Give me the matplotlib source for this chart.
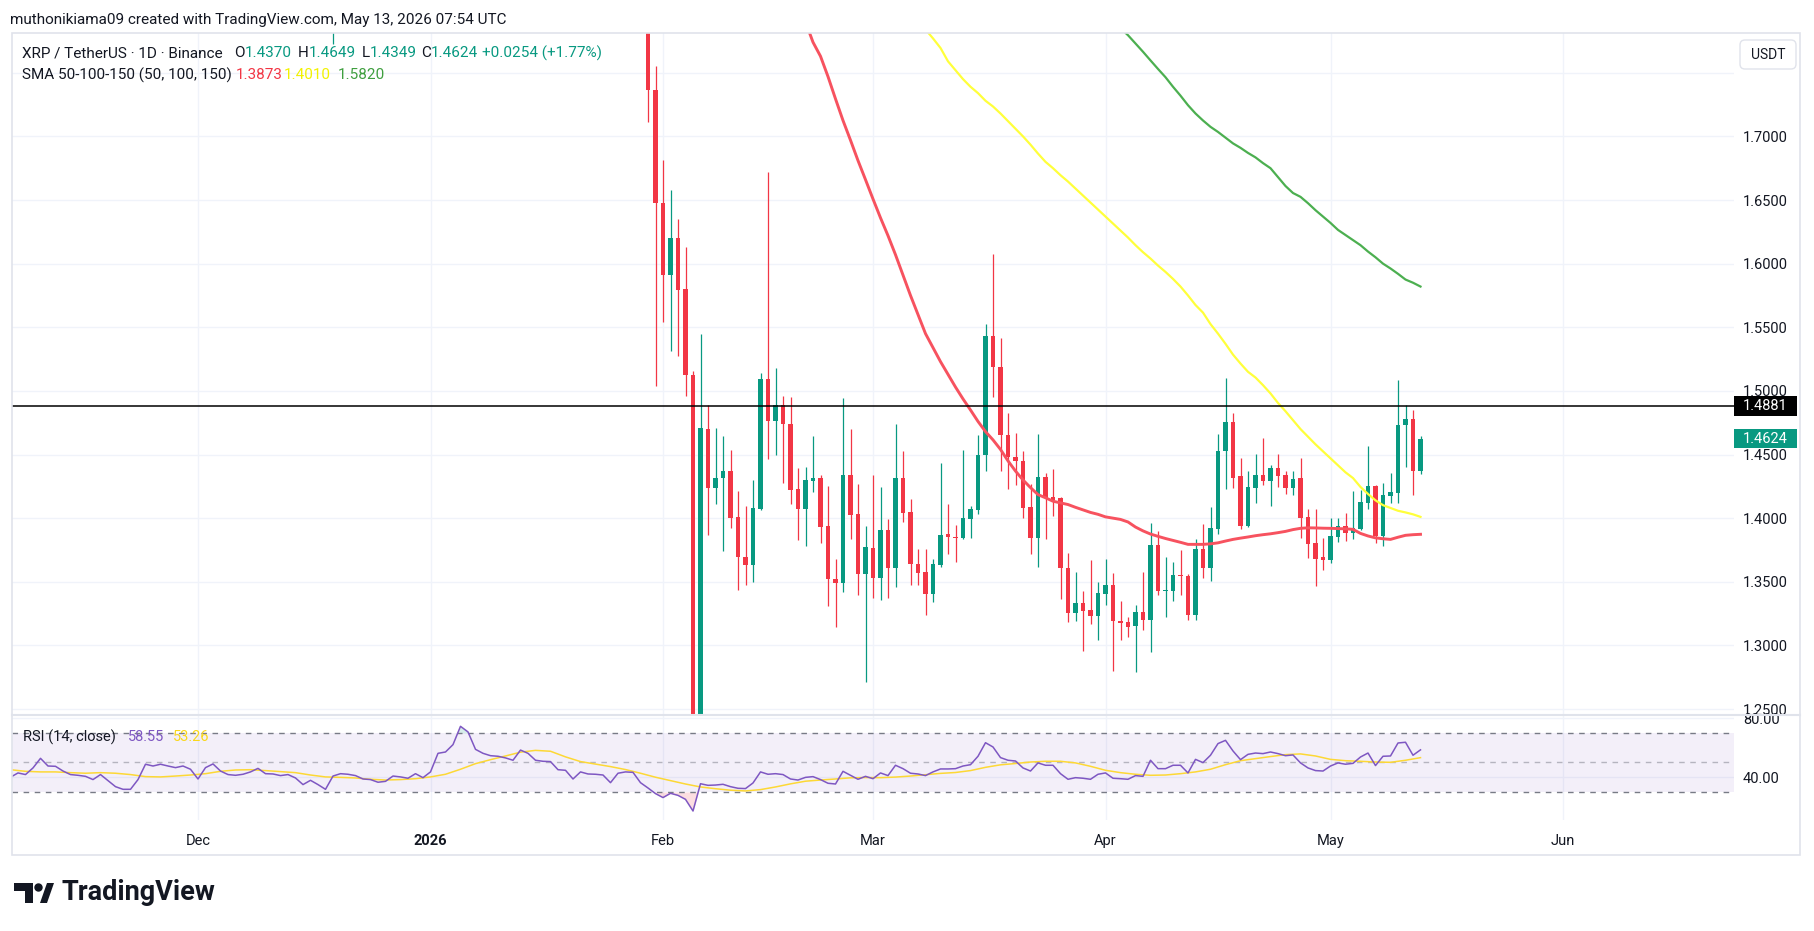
import numpy as np
import pandas as pd
import matplotlib
matplotlib.use('Agg')
import matplotlib.pyplot as plt
import matplotlib.dates as mdates
from matplotlib.patches import Rectangle, FancyBboxPatch, Polygon, Circle
from matplotlib.transforms import blended_transform_factory

plt.rcParams['font.family'] = ['Roboto', 'DejaVu Sans']

W, H = 1814, 931

# ---------------- data ----------------
candle_start = '2026-01-30'
opens = [1.8050, 1.7361, 1.6480, 1.5912, 1.6205, 1.5801, 1.5125, 1.1400, 1.4700, 1.4237,
         1.4314, 1.4373, 1.4007, 1.3698, 1.3635, 1.4070, 1.5097, 1.4760, 1.4888, 1.4742,
         1.4227, 1.4070, 1.4290, 1.4314, 1.3938, 1.3520, 1.3489, 1.4342, 1.4032, 1.3565,
         1.3764, 1.3530, 1.3907, 1.3611, 1.4317, 1.4046, 1.3642, 1.3579, 1.3402, 1.3635,
         1.3875, 1.3851, 1.3844, 1.3990, 1.4063, 1.4495, 1.5435, 1.5191, 1.4652, 1.4481,
         1.4453, 1.4086, 1.3846, 1.4320, 1.4164, 1.4156, 1.3612, 1.3253, 1.3336, 1.3279,
         1.3234, 1.3401, 1.3477, 1.3195, 1.3182, 1.3151, 1.3266, 1.3203, 1.3789, 1.3425,
         1.3430, 1.3555, 1.3547, 1.3237, 1.3760, 1.3612, 1.3917, 1.4529, 1.4758, 1.4328,
         1.3938, 1.4237, 1.4336, 1.4289, 1.4391, 1.4336, 1.4237, 1.4312, 1.4008, 1.3805,
         1.3695, 1.3675, 1.3854, 1.3938, 1.3880, 1.3917, 1.4120, 1.4250, 1.3859, 1.4177,
         1.4198, 1.4729, 1.4781, 1.4370]
highs = [1.8200, 1.7552, 1.6814, 1.6581, 1.6351, 1.6128, 1.5160, 1.5449, 1.4888, 1.4707,
         1.4645, 1.4537, 1.4210, 1.4095, 1.4297, 1.5143, 1.6720, 1.5177, 1.4958, 1.4951,
         1.4391, 1.4401, 1.4645, 1.4342, 1.4255, 1.3680, 1.4941, 1.4704, 1.4272, 1.3938,
         1.4342, 1.4241, 1.3994, 1.4739, 1.4530, 1.4154, 1.3757, 1.3757, 1.3680, 1.4436,
         1.4115, 1.3945, 1.4537, 1.4095, 1.4655, 1.5529, 1.6072, 1.5418, 1.4826, 1.4669,
         1.4531, 1.4268, 1.4664, 1.4352, 1.4386, 1.4164, 1.3727, 1.3578, 1.3430, 1.3672,
         1.3500, 1.3682, 1.3570, 1.3352, 1.3227, 1.3320, 1.3578, 1.3961, 1.3898, 1.3695,
         1.3656, 1.3747, 1.3560, 1.3839, 1.3951, 1.4086, 1.4664, 1.5102, 1.4828, 1.4471,
         1.4367, 1.4503, 1.4628, 1.4414, 1.4508, 1.4372, 1.4367, 1.4471, 1.4070, 1.4070,
         1.3844, 1.4000, 1.4000, 1.4042, 1.4211, 1.4219, 1.4570, 1.4258, 1.4273, 1.4352,
         1.5086, 1.4888, 1.4852, 1.4649]
lows = [1.7117, 1.5038, 1.5540, 1.5317, 1.5278, 1.4958, 1.1100, 1.1200, 1.3868, 1.4112,
        1.3739, 1.3921, 1.3433, 1.3471, 1.3496, 1.4063, 1.4464, 1.4495, 1.4276, 1.4112,
        1.3826, 1.3785, 1.4203, 1.3802, 1.3308, 1.3141, 1.3416, 1.3837, 1.3395, 1.2712,
        1.3374, 1.3356, 1.3374, 1.3461, 1.3973, 1.3471, 1.3478, 1.3235, 1.3339, 1.3614,
        1.3715, 1.3659, 1.3837, 1.3844, 1.4032, 1.4370, 1.4951, 1.4370, 1.4227, 1.4262,
        1.4003, 1.3716, 1.3620, 1.3839, 1.4016, 1.3365, 1.3182, 1.3195, 1.2956, 1.3169,
        1.3044, 1.3318, 1.2800, 1.3039, 1.3065, 1.2792, 1.3122, 1.2948, 1.3396, 1.3221,
        1.3346, 1.3396, 1.3201, 1.3201, 1.3526, 1.3505, 1.3872, 1.4232, 1.4237, 1.3911,
        1.3930, 1.4120, 1.4263, 1.4099, 1.4245, 1.4193, 1.4185, 1.3841, 1.3685, 1.3466,
        1.3596, 1.3651, 1.3815, 1.3820, 1.3839, 1.3906, 1.4073, 1.3807, 1.3781, 1.4120,
        1.4120, 1.4401, 1.4182, 1.4349]
closes = [1.7361, 1.6473, 1.5912, 1.6205, 1.5794, 1.5125, 1.1400, 1.4707, 1.4237, 1.4314,
          1.4373, 1.4001, 1.3698, 1.3635, 1.4077, 1.5097, 1.4760, 1.4888, 1.4742, 1.4220,
          1.4070, 1.4297, 1.4314, 1.3931, 1.3520, 1.3489, 1.4342, 1.4025, 1.3565, 1.3774,
          1.3530, 1.3907, 1.3611, 1.4317, 1.4042, 1.3642, 1.3572, 1.3402, 1.3638, 1.3868,
          1.3851, 1.3845, 1.4001, 1.4070, 1.4495, 1.5435, 1.5191, 1.4652, 1.4481, 1.4453,
          1.4081, 1.3846, 1.4320, 1.4159, 1.4143, 1.3607, 1.3253, 1.3336, 1.3273, 1.3234,
          1.3414, 1.3477, 1.3190, 1.3175, 1.3143, 1.3266, 1.3203, 1.3789, 1.3425, 1.3435,
          1.3555, 1.3542, 1.3237, 1.3760, 1.3612, 1.3925, 1.4531, 1.4758, 1.4315, 1.3938,
          1.4242, 1.4336, 1.4289, 1.4391, 1.4333, 1.4237, 1.4305, 1.4003, 1.3800, 1.3682,
          1.3675, 1.3859, 1.3938, 1.3880, 1.3922, 1.4125, 1.4250, 1.3859, 1.4180, 1.4203,
          1.4734, 1.4781, 1.4370, 1.4624]

# a December candle whose lower wick just reaches into view
tick_date = '2025-12-19'
tick_ohlc = (1.8000, 1.8800, 1.7727, 1.8600)

sma50_start = '2026-02-20'
sma50 = [1.790, 1.774, 1.763, 1.747, 1.7295, 1.7125, 1.697, 1.681, 1.666, 1.6508,
         1.636, 1.622, 1.607, 1.591, 1.575, 1.560, 1.545, 1.534, 1.523, 1.513,
         1.503, 1.4937, 1.485, 1.476, 1.468, 1.4615, 1.454, 1.445, 1.437, 1.430,
         1.424, 1.4185, 1.416, 1.4133, 1.412, 1.4107, 1.4085, 1.4065, 1.4045, 1.403,
         1.401, 1.400, 1.399, 1.397, 1.393, 1.390, 1.3875, 1.3857, 1.384, 1.3825,
         1.381, 1.3794, 1.3794, 1.3794, 1.3798, 1.3806, 1.382, 1.3833, 1.3843, 1.3852,
         1.3862, 1.387, 1.3877, 1.3886, 1.3896, 1.391, 1.392, 1.3924, 1.3923, 1.3921,
         1.392, 1.3918, 1.3916, 1.3912, 1.388, 1.386, 1.3845, 1.3838, 1.3833, 1.385,
         1.3865, 1.387, 1.3873]
sma100_start = '2026-03-08'
sma100 = [1.784, 1.777, 1.7695, 1.759, 1.752, 1.745, 1.739, 1.734, 1.728, 1.7235,
          1.718, 1.712, 1.706, 1.700, 1.6935, 1.6865, 1.680, 1.675, 1.6695, 1.6645,
          1.659, 1.6535, 1.648, 1.6425, 1.637, 1.6315, 1.626, 1.6205, 1.6145, 1.609,
          1.604, 1.5985, 1.5935, 1.588, 1.582, 1.575, 1.5675, 1.5615, 1.5525, 1.545,
          1.537, 1.5285, 1.5215, 1.515, 1.5105, 1.5045, 1.498, 1.4905, 1.484, 1.477,
          1.470, 1.464, 1.458, 1.4525, 1.447, 1.4415, 1.436, 1.4315, 1.4245, 1.419,
          1.414, 1.4102, 1.408, 1.4058, 1.4045, 1.403, 1.401]
sma150_start = '2026-04-03'
sma150 = [1.785, 1.7795, 1.773, 1.7665, 1.7597, 1.753, 1.7465, 1.739, 1.732, 1.7245,
          1.718, 1.7125, 1.7075, 1.7035, 1.699, 1.6945, 1.691, 1.687, 1.6835, 1.679,
          1.675, 1.668, 1.661, 1.6555, 1.6525, 1.6475, 1.642, 1.637, 1.632, 1.6265,
          1.6225, 1.6185, 1.6145, 1.6095, 1.605, 1.600, 1.5962, 1.592, 1.5875, 1.585,
          1.582]

rsi_start = '2025-11-06'
rsi = [40.0, 42.9, 41.8, 46.3, 52.8, 47.6, 47.4, 44.2, 41.8, 41.3,
       40.6, 38.4, 41.8, 37.7, 33.6, 31.8, 31.8, 38.4, 48.8, 47.6,
       48.8, 47.6, 46.5, 47.6, 45.4, 38.8, 46.5, 49.0, 44.2, 41.8,
       41.3, 42.0, 43.6, 46.0, 42.4, 42.2, 41.1, 41.8, 39.5, 35.0,
       37.9, 35.0, 31.8, 40.8, 42.4, 42.0, 41.1, 38.8, 38.4, 36.6,
       37.2, 40.8, 40.2, 39.3, 42.4, 39.7, 43.6, 56.2, 57.1, 62.1,
       74.5, 70.7, 58.9, 56.2, 54.6, 54.2, 53.1, 51.5, 58.4, 56.2,
       51.5, 50.8, 50.6, 45.1, 44.7, 38.8, 43.6, 42.2, 42.0, 41.5,
       36.3, 42.7, 43.6, 43.3, 36.3, 32.7, 28.9, 26.2, 29.1, 27.7,
       25.0, 17.1, 35.6, 34.5, 34.7, 35.2, 33.6, 32.5, 32.3, 36.1,
       43.6, 42.0, 42.4, 41.8, 38.8, 38.1, 39.9, 40.4, 38.4, 35.9,
       35.4, 44.0, 41.3, 38.6, 40.6, 39.0, 42.9, 41.1, 48.1, 45.8,
       42.7, 42.2, 41.1, 43.6, 45.6, 45.6, 45.8, 47.6, 48.5, 54.2,
       63.4, 60.5, 53.3, 51.5, 51.0, 46.3, 44.2, 49.7, 48.1, 48.1,
       42.4, 38.6, 39.7, 39.3, 38.6, 42.0, 42.9, 39.3, 39.0, 38.6,
       41.1, 40.6, 51.5, 45.8, 45.8, 48.1, 48.1, 42.9, 52.1, 49.9,
       54.9, 62.8, 65.0, 57.8, 51.9, 55.5, 56.4, 56.0, 57.1, 56.0,
       54.6, 55.1, 49.7, 46.3, 44.5, 44.2, 47.6, 49.7, 48.8, 49.4,
       53.7, 56.4, 47.9, 54.2, 54.4, 63.2, 63.7, 54.9, 58.55]
# RSI moving average, read every second day
rsi_ma_start = '2025-11-06'
rsi_ma = [45.1, 44.0, 43.6, 43.6, 43.1, 42.7, 43.1, 42.7, 41.8, 40.4,
          40.2, 40.8, 41.5, 42.4, 44.0, 44.9, 45.1, 44.5, 43.8, 43.1,
          41.5, 40.2, 39.9, 39.5, 38.6, 38.1, 38.4, 39.0, 40.2, 42.0,
          45.4, 49.2, 51.9, 54.4, 57.0, 58.2, 57.6, 53.8, 50.6, 48.9,
          47.2, 45.2, 42.7, 40.0, 37.7, 35.4, 33.4, 32.2, 31.2, 30.7,
          31.6, 33.4, 35.5, 37.3, 38.1, 38.8, 39.6, 39.8, 39.7, 40.1,
          40.8, 41.7, 42.6, 43.2, 44.5, 46.7, 48.4, 49.3, 50.3, 50.8,
          50.8, 49.7, 47.4, 44.7, 43.1, 42.0, 41.3, 41.5, 42.4, 43.6,
          45.4, 48.5, 51.2, 52.6, 54.0, 55.3, 55.8, 54.4, 52.1, 51.2,
          50.8, 50.3, 50.1, 51.5, 53.26]

month_ticks = ['2025-12-01', '2026-01-01', '2026-02-01', '2026-03-01',
               '2026-04-01', '2026-05-01', '2026-06-01']
month_labels = ['Dec', '2026', 'Feb', 'Mar', 'Apr', 'May', 'Jun']
price_ticks = [1.25, 1.30, 1.35, 1.40, 1.45, 1.50, 1.55, 1.60, 1.65, 1.70, 1.75]
rsi_ticks = [40, 80]
level_line = 1.4881
last_close = 1.4624

UP, DOWN = '#089981', '#f23645'
TXT = '#131722'
GRID = '#f0f3fa'

# ---------------- figure ----------------
fig = plt.figure(figsize=(W / 100, H / 100), dpi=100)
fig.patch.set_facecolor('white')


def rect(x0, y0, x1, y1):
    return [x0 / W, 1 - y1 / H, (x1 - x0) / W, (y1 - y0) / H]


ax = fig.add_axes(rect(12, 33, 1734, 714))
axr = fig.add_axes(rect(12, 716, 1734, 820), sharex=ax)

feb1 = mdates.date2num(pd.Timestamp('2026-02-01'))
ax.set_xlim(feb1 - 86.8, feb1 + 142.8)
ax.set_ylim(1.24609, 1.78125)
axr.set_ylim(11.0, 81.5)

for a in (ax, axr):
    for s in a.spines.values():
        s.set_visible(False)
    a.set_xticks(mdates.date2num(pd.to_datetime(month_ticks)))
    a.grid(True, color=GRID, lw=1.0)
    a.set_axisbelow(True)
    a.yaxis.tick_right()
    a.tick_params(axis='both', length=0, labelsize=10.5, colors=TXT)
    a.tick_params(axis='y', pad=6.5)

ax.tick_params(labelbottom=False)
ax.set_yticks(price_ticks)
ax.set_yticklabels(['%.4f' % p if p < 1.74 else '' for p in price_ticks])
axr.set_yticks(rsi_ticks)
axr.set_yticklabels(['%.2f' % v for v in rsi_ticks])
axr.set_xticklabels(month_labels)
axr.tick_params(axis='x', pad=10)
for lab in axr.get_xticklabels():
    if lab.get_text() == '2026':
        lab.set_fontweight('bold')

# candles
o = np.array(opens); h = np.array(highs); l = np.array(lows); c = np.array(closes)
cd = mdates.date2num(pd.date_range(candle_start, periods=len(o), freq='D'))
col = np.where(c >= o, UP, DOWN)
ax.vlines(cd, l, h, colors=col, lw=0.9, zorder=3)
ax.bar(cd, np.maximum(np.abs(c - o), 0.0009), bottom=np.minimum(o, c), width=0.62,
       color=col, linewidth=0, zorder=4)
td = mdates.date2num(pd.Timestamp(tick_date))
ax.vlines([td], [tick_ohlc[2]], [tick_ohlc[1]], colors=UP, lw=0.9, zorder=3)

# moving averages
def series_dates(start, vals, freq='D'):
    return pd.date_range(start, periods=len(vals), freq=freq)

ax.plot(series_dates(sma150_start, sma150), sma150, color='#4caf50', lw=1.6, zorder=5)
ax.plot(series_dates(sma100_start, sma100), sma100, color='#ffff3b', lw=1.6, zorder=5)
ax.plot(series_dates(sma50_start, sma50), sma50, color='#f7525f', lw=2.1, zorder=5)

ax.axhline(level_line, color='black', lw=1.1, zorder=6)

# price tags on the scale
bt = blended_transform_factory(ax.transAxes, ax.transData)
for val, fc in [(level_line, 'black'), (last_close, UP)]:
    ax.add_patch(Rectangle((1.0, val - 0.0076), 0.0365, 0.0152, transform=bt,
                           facecolor=fc, edgecolor='none', clip_on=False, zorder=10))
    ax.text(1.018, val, '%.4f' % val, transform=bt, color='white', fontsize=10.5,
            ha='center', va='center', clip_on=False, zorder=11)

# RSI pane
rd = series_dates(rsi_start, rsi)
rv = np.array(rsi)
axr.axhspan(30, 70, color='#7e57c2', alpha=0.09, lw=0)
axr.axhline(70, color='#787b86', lw=1.0, ls=(0, (4, 4)))
axr.axhline(50, color='#787b86', lw=1.0, ls=(0, (4, 4)), alpha=0.5)
axr.axhline(30, color='#787b86', lw=1.0, ls=(0, (4, 4)))
axr.fill_between(rd, rv, 30, where=rv < 30, interpolate=True, color='#f23645', alpha=0.16, lw=0)
axr.fill_between(rd, rv, 70, where=rv > 70, interpolate=True, color='#089981', alpha=0.16, lw=0)
axr.plot(series_dates(rsi_ma_start, rsi_ma, '2D'), rsi_ma, color='#fdd835', lw=1.1)
axr.plot(rd, rv, color='#7e57c2', lw=1.1)

# ---------------- overlay (texts, frame, logo) ----------------
ov = fig.add_axes([0, 0, 1, 1], zorder=20)
ov.set_xlim(0, W)
ov.set_ylim(H, 0)
ov.axis('off')
ov.patch.set_alpha(0)

ov.add_patch(Rectangle((12, 33), 1788, 822, fill=False, edgecolor='#e0e3eb', lw=1.2))
ov.plot([12, 1800], [715, 715], color='#e0e3eb', lw=1.5)
ov.add_patch(FancyBboxPatch((1740, 40), 56, 29, boxstyle='round,pad=0,rounding_size=5',
                            facecolor='white', edgecolor='#e0e3eb', lw=1.0))
ov.text(1768, 55, 'USDT', color=TXT, fontsize=10, ha='center', va='center')

ov.text(10, 20, 'muthonikiama09 created with TradingView.com, May 13, 2026 07:54 UTC',
        color=TXT, fontsize=11, va='center')

renderer = fig.canvas.get_renderer()


def seq(x, y, parts, size=11):
    for txt, color in parts:
        t = ov.text(x, y, txt, color=color, fontsize=size, va='center', ha='left')
        x += t.get_window_extent(renderer).width


seq(22, 53, [('XRP / TetherUS · 1D · Binance', TXT)])
seq(234, 53, [('O', TXT), ('%.4f' % opens[-1], UP)])
seq(298, 53, [('H', TXT), ('%.4f' % highs[-1], UP)])
seq(362, 53, [('L', TXT), ('%.4f' % lows[-1], UP)])
seq(421, 53, [('C', TXT), ('%.4f' % closes[-1], UP)])
seq(482, 53, [('+0.0254 (+1.77%)', UP)])
seq(22, 75, [('SMA 50-100-150 (50, 100, 150)', TXT)])
seq(236, 75, [('%.4f' % sma50[-1], '#f23645')])
seq(284, 75, [('%.4f' % sma100[-1], '#f2f200')])
seq(338, 75, [('%.4f' % sma150[-1], '#3f9f3f')])
seq(23, 737, [('RSI (14, close)', TXT)], 10.5)
seq(128, 737, [('%.2f' % rsi[-1], '#7e57c2')], 10.5)
seq(173, 737, [('%.2f' % rsi_ma[-1], '#f9d71c')], 10.5)

# TradingView logo
ov.add_patch(Polygon([(14, 883), (33, 883), (33, 903), (25, 903), (25, 891), (14, 891)],
                     closed=True, facecolor='#131722', edgecolor='none'))
ov.add_patch(Circle((38.5, 887.5), 4.2, facecolor='#131722', edgecolor='none'))
ov.add_patch(Polygon([(40, 903), (47, 883), (54, 883), (47, 903)],
                     closed=True, facecolor='#131722', edgecolor='none'))
ov.text(61, 893, 'TradingView', color='#131722', fontsize=19.5, fontweight='bold',
        ha='left', va='center')

fig.savefig('out.png', dpi=100, facecolor='white')
